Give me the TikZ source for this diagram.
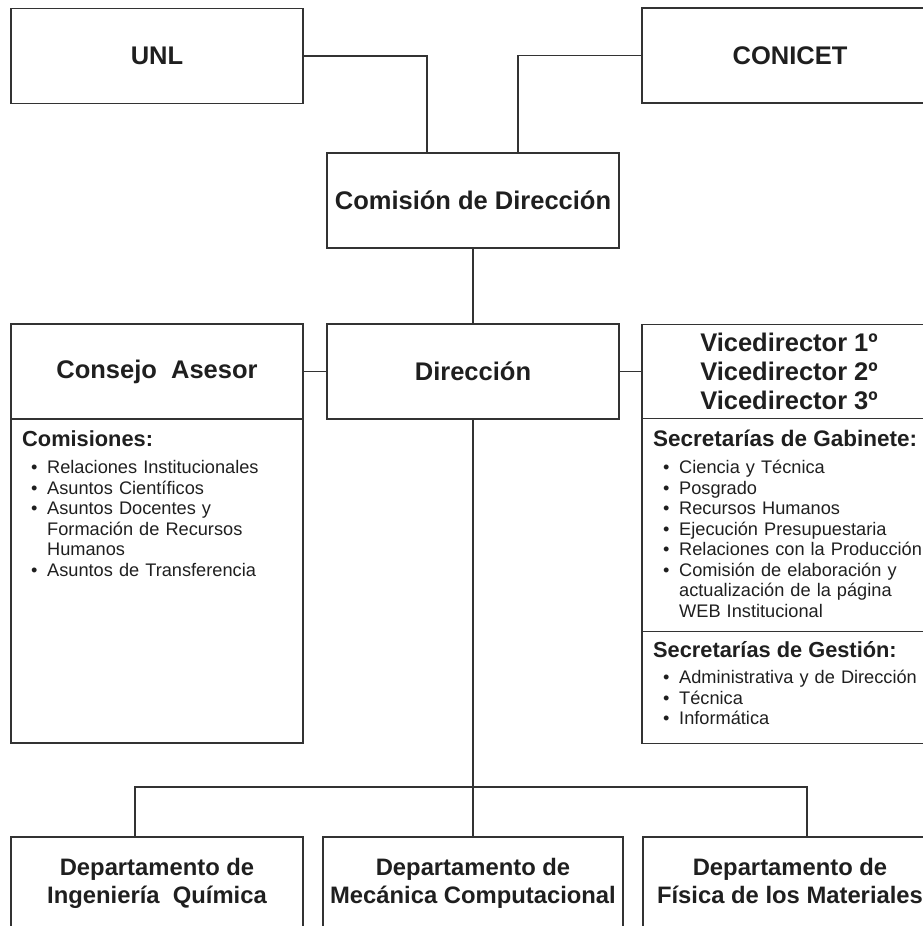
\documentclass[tikz,border=0pt]{standalone}
\usepackage{fontspec}
\setmainfont{Liberation Sans}
\usetikzlibrary{positioning}
\tikzset{
	caja/.style={draw=black!80, line width=1.7pt, minimum width=292pt, minimum height=95pt, inner sep=0pt, outer sep=0pt},
	titulo/.style={font=\fontsize{25.5}{29}\selectfont\bfseries, text=black!88, align=center},
	depto/.style={font=\fontsize{23.8}{28}\selectfont\bfseries, text=black!88, align=center, inner sep=0pt},
	encab/.style={font=\fontsize{21.8}{25}\selectfont\bfseries, text=black!88, anchor=base west, inner sep=0pt},
	lista/.style={font=\fontsize{18.2}{20.5}\selectfont, text=black!88, anchor=base west, inner sep=0pt, text width=268pt, align=left},
	linea/.style={draw=black!80, line width=1.7pt}
}
\newcommand{\itm}{\makebox[16pt][l]{\textbullet}}
\begin{document}
\begin{tikzpicture}[x=1pt,y=-1pt]
	\useasboundingbox (0,0) rectangle (923,926);
	\node[caja,titulo] (unl) at (157,56) {UNL};
	\node[caja,titulo,minimum width=296pt] (conicet) at (790,55.5) {CONICET};
	\node[caja,titulo] (comision) at (473,200.5) {Comisión de Dirección};
	\node[caja,titulo] (direccion) at (473,371.5) {Dirección};
	\node[caja,titulo] (consejo) at (157,371.5) {Consejo\ \ Asesor};
	\node[caja,minimum height=324pt,below=0pt of consejo] (comisiones) {};
	\node[caja,titulo,minimum width=294pt,minimum height=94pt] (vice) at (789,371.5) {Vicedirector 1º\\Vicedirector 2º\\Vicedirector 3º};
	\node[caja,minimum width=294pt,minimum height=213pt,below=0pt of vice] (gabinete) {};
	\node[caja,minimum width=294pt,minimum height=112pt,below=0pt of gabinete] (gestion) {};
	\node[encab] (comhead) at (22,446) {Comisiones:};
	\node[lista] (comlista) at (31,473.5) {\itm Relaciones Institucionales\\ \itm Asuntos Científicos\\ \itm Asuntos Docentes y\\ \hspace*{16pt}Formación de Recursos\\ \hspace*{16pt}Humanos\\ \itm Asuntos de Transferencia};
	\node[encab,font=\fontsize{22.5}{25}\selectfont\bfseries] (gabhead) at (653,446) {Secretarías de Gabinete:};
	\node[lista] (gablista) at (663,473.5) {\itm Ciencia y Técnica\\ \itm Posgrado\\ \itm Recursos Humanos\\ \itm Ejecución Presupuestaria\\ \itm Relaciones con la Producción\\ \itm Comisión de elaboración y\\ \hspace*{16pt}actualización de la página\\ \hspace*{16pt}WEB Institucional};
	\node[encab] (gesthead) at (653,657) {Secretarías de Gestión:};
	\node[lista] (gestlista) at (663,683.5) {\itm Administrativa y de Dirección\\ \itm Técnica\\ \itm Informática};
	\foreach \n/\x/\w in {dqui/157/292, dmec/473/300, dfis/790/294}
		\node[caja,minimum width=\w pt,minimum height=100pt,anchor=north] (\n) at (\x,837) {};
	\node[depto] (tqui) at ([yshift=-48.5pt]dqui.north) {Departamento de\\Ingeniería\ \ Química\strut};
	\node[depto] (tmec) at ([yshift=-48.5pt]dmec.north) {Departamento de\\Mecánica Computacional\strut};
	\node[depto] (tfis) at ([yshift=-48.5pt]dfis.north) {Departamento de\\Física de los Materiales\strut};
	\draw[linea] (unl.east) -| ([xshift=-46pt]comision.north);
	\draw[linea] (conicet.west) -| ([xshift=45pt]comision.north);
	\draw[linea] (comision) -- (direccion);
	\draw[linea] (consejo) -- (direccion) -- (vice);
	\draw[linea] (direccion) -- (dmec);
	\coordinate (cruce) at (direccion.south |- 0,787);
	\draw[linea] ([xshift=-22pt]dqui.north) |- (cruce) -| ([xshift=17pt]dfis.north);
\end{tikzpicture}
\end{document}
